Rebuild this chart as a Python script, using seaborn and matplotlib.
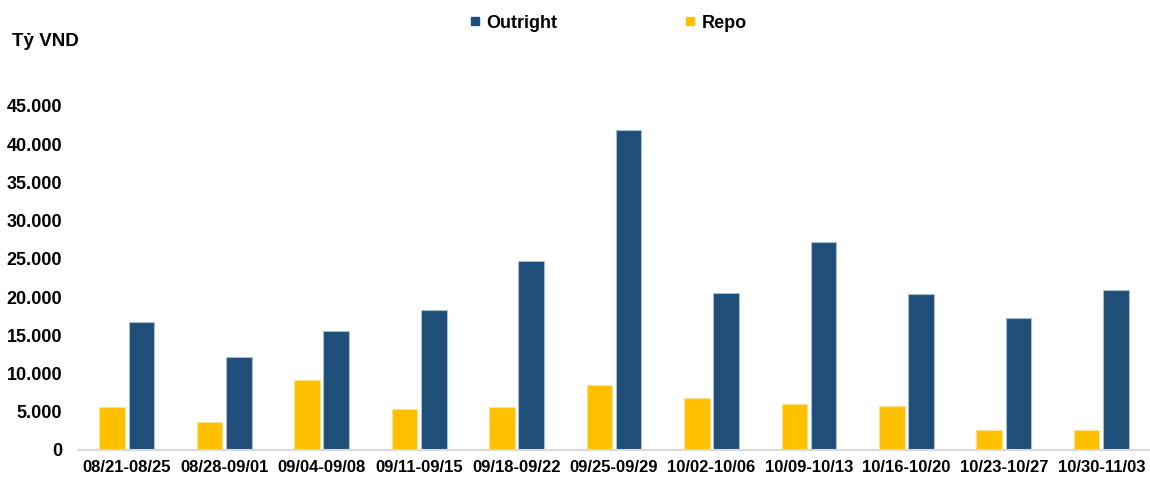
import matplotlib
matplotlib.use("Agg")
import matplotlib.pyplot as plt
from matplotlib.ticker import FuncFormatter, MultipleLocator
from matplotlib.lines import Line2D
import seaborn as sns
import pandas as pd

# Weekly trading value, billion VND
weeks = ["08/21-08/25", "08/28-09/01", "09/04-09/08", "09/11-09/15", "09/18-09/22",
         "09/25-09/29", "10/02-10/06", "10/09-10/13", "10/16-10/20", "10/23-10/27",
         "10/30-11/03"]
outright = [16700, 12200, 15550, 18250, 24700, 41800, 20600, 27200, 20400, 17250, 20950]
repo = [5650, 3650, 9100, 5400, 5650, 8500, 6750, 6000, 5800, 2650, 2650]

series_names = ["Outright", "Repo"]
colors = {"Outright": "#1F4E79", "Repo": "#FFC000"}
edges = {"Outright": "#A9BCD0", "Repo": "#FFE28A"}

df = pd.DataFrame({
    "week": weeks * 2,
    "series": ["Repo"] * len(weeks) + ["Outright"] * len(weeks),
    "value": repo + outright,
})

sns.set_theme(style="white")
plt.rcParams["font.family"] = ["Liberation Sans", "DejaVu Sans"]
plt.rcParams["font.weight"] = "bold"
plt.rcParams["text.color"] = "#000000"

fig = plt.figure(figsize=(11.5, 4.79), dpi=100)
ax = fig.add_axes([78 / 1150, 29 / 479, (1150 - 78) / 1150, (450 - 106) / 479])

sns.barplot(data=df, x="week", y="value", hue="series", order=weeks,
            hue_order=["Repo", "Outright"], palette=colors, saturation=1,
            width=0.6, gap=0.125, legend=False, ax=ax, errorbar=None)

# light outline on each bar
for cont, name in zip(ax.containers, ["Repo", "Outright"]):
    for bar in cont:
        bar.set_edgecolor(edges[name])
        bar.set_linewidth(0.8)

ax.set_ylim(0, 45000)
ax.set_xlim(-0.5, len(weeks) - 0.5)
ax.yaxis.set_major_locator(MultipleLocator(5000))
ax.yaxis.set_major_formatter(FuncFormatter(lambda v, p: f"{int(v):,}".replace(",", ".")))
ax.set_xlabel("")
ax.set_ylabel("")
ax.tick_params(axis="both", length=0, colors="#000000")
ax.tick_params(axis="x", labelsize=12, pad=7)
ax.tick_params(axis="y", labelsize=13, pad=11.5)
for lbl in ax.get_xticklabels() + ax.get_yticklabels():
    lbl.set_fontweight("bold")

for side in ["top", "right", "left"]:
    ax.spines[side].set_visible(False)
ax.spines["bottom"].set_color("#D9D9D9")
ax.spines["bottom"].set_linewidth(1.5)
ax.grid(False)

fig.text(12 / 1150, 1 - 42 / 479, "Tỷ VND", fontsize=13.5, fontweight="bold",
         color="#000000", va="center", ha="left", family=["Liberation Sans", "DejaVu Sans"])

handles = [Line2D([0], [0], marker="s", linestyle="none", markersize=6,
                  markerfacecolor=colors[n], markeredgecolor=colors[n]) for n in series_names]
leg = fig.legend(handles, series_names, loc="center", bbox_to_anchor=(608 / 1150, 1 - 23 / 479),
                 ncol=2, frameon=False, handlelength=0.6, handletextpad=0.35,
                 columnspacing=7.0, prop={"size": 13, "weight": "bold"})
for t in leg.get_texts():
    t.set_color("#000000")

fig.savefig("out.png", dpi=100)
